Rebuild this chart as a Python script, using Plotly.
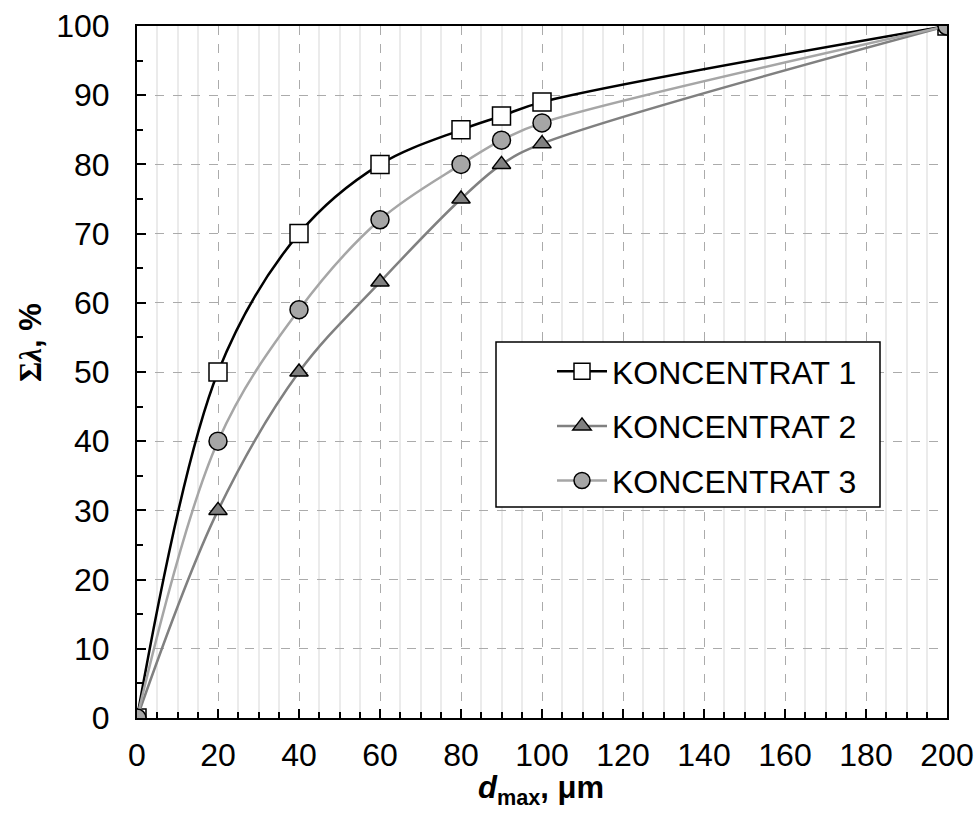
import plotly.graph_objects as go

x_vals = [0, 20, 40, 60, 80, 90, 100, 200]
k1 = [0, 50, 70, 80, 85, 87, 89, 100]
k2 = [0, 30, 50, 63, 75, 80, 83, 100]
k3 = [0, 40, 59, 72, 80, 83.5, 86, 100]
names = ["KONCENTRAT 1", "KONCENTRAT 2", "KONCENTRAT 3"]

FONT = "Arial, 'Liberation Sans', sans-serif"

fig = go.Figure()
fig.add_trace(go.Scatter(
    x=x_vals, y=k1, name=names[0], mode="lines+markers",
    line=dict(color="#000000", width=2.5, shape="spline", smoothing=1),
    marker=dict(symbol="square", size=18, color="#FFFFFF", line=dict(color="#000000", width=1.5)),
    legendgroup="a"))
fig.add_trace(go.Scatter(
    x=x_vals, y=k2, name=names[1], mode="lines+markers",
    line=dict(color="#808080", width=2.5, shape="spline", smoothing=1),
    marker=dict(symbol="triangle-up", size=16, color="#808080", line=dict(color="#000000", width=1.5)),
    legendgroup="b"))
fig.add_trace(go.Scatter(
    x=x_vals, y=k3, name=names[2], mode="lines+markers",
    line=dict(color="#A6A6A6", width=2.5, shape="spline", smoothing=1),
    marker=dict(symbol="circle", size=18, color="#A6A6A6", line=dict(color="#000000", width=1.5)),
    legendgroup="c"))

fig.update_xaxes(
    range=[0, 200], dtick=20, tick0=0, automargin=False,
    showline=True, linecolor="#000000", linewidth=2, mirror=True,
    ticks="inside", ticklen=9, tickwidth=2, tickcolor="#000000",
    showgrid=True, gridcolor="#ABABAB", gridwidth=1, griddash="dash",
    minor=dict(dtick=5, tick0=0, ticks="inside", ticklen=6, tickwidth=2, tickcolor="#000000",
               showgrid=True, gridcolor="#EBEBEB", gridwidth=1.5, griddash="solid"),
    tickfont=dict(family=FONT, size=32, color="#000000"),
    ticklabelstandoff=8, zeroline=False)
fig.update_yaxes(
    range=[0, 100], dtick=10, tick0=0, automargin=False,
    showline=True, linecolor="#000000", linewidth=2, mirror=True,
    ticks="inside", ticklen=9, tickwidth=2, tickcolor="#000000",
    showgrid=True, gridcolor="#ABABAB", gridwidth=1, griddash="dash",
    minor=dict(dtick=5, tick0=0, ticks="inside", ticklen=6, tickwidth=2, tickcolor="#000000",
               showgrid=False),
    tickfont=dict(family=FONT, size=32, color="#000000"),
    ticklabelstandoff=19, zeroline=False)

fig.add_shape(type="rect", xref="paper", yref="paper",
              x0=(496 - 137) / 810, x1=(880 - 137) / 810,
              y0=(718 - 507) / 692, y1=(718 - 342) / 692,
              line=dict(color="#000000", width=1.5), fillcolor="#FFFFFF", layer="above")

fig.update_layout(
    width=977, height=814, autosize=False,
    margin=dict(l=137, r=30, t=26, b=96),
    paper_bgcolor="#FFFFFF", plot_bgcolor="#FFFFFF",
    font=dict(family=FONT, size=32, color="#000000"),
    showlegend=True,
    legend=dict(x=(552 - 137) / 810, y=(718 - 344) / 692, xanchor="left", yanchor="top",
                bgcolor="rgba(0,0,0,0)", borderwidth=0, tracegroupgap=10,
                font=dict(family=FONT, size=32, color="#000000"),
                itemwidth=50),
    annotations=[
        dict(text="<b><i>d</i><sub>max</sub>, μm</b>", xref="paper", yref="paper",
             x=(541 - 137) / 810, y=(718 - 790) / 692, xanchor="center", yanchor="middle",
             showarrow=False, font=dict(family=FONT, size=31, color="#000000")),
        dict(text="<b><span style='font-family:Liberation Serif, Times New Roman, serif'>Σ<i>λ</i></span>, %</b>",
             xref="paper", yref="paper", x=(30 - 137) / 810, y=(718 - 343) / 692,
             xanchor="center", yanchor="middle", textangle=-90,
             showarrow=False, font=dict(family=FONT, size=31, color="#000000")),
    ],
)

fig.write_html("out.html", config={"displayModeBar": False},
               post_script="document.body.style.margin='0';document.body.style.overflow='hidden';")
